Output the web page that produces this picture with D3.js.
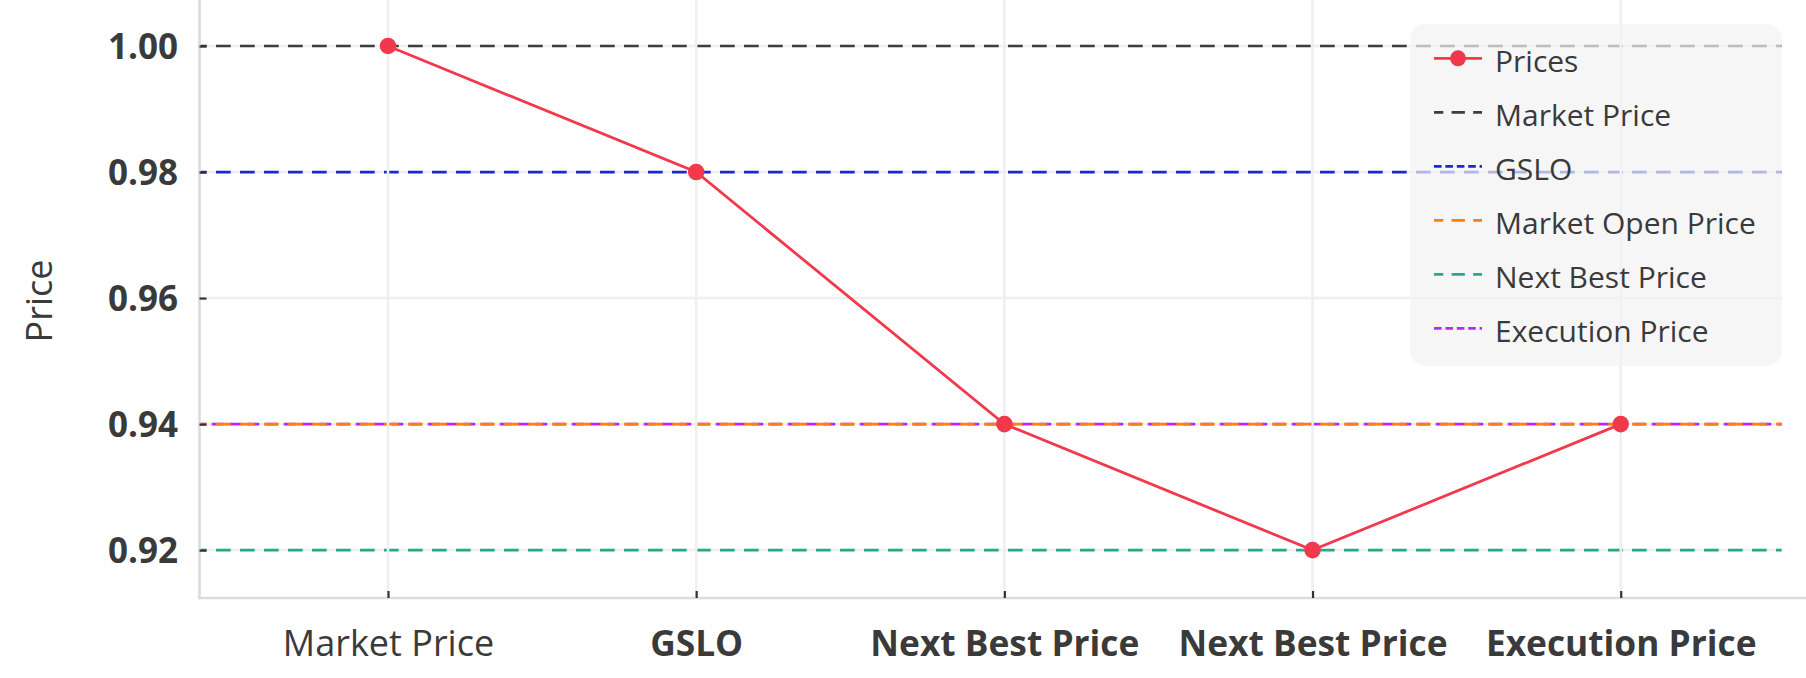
<!DOCTYPE html>
<html>
<head>
<meta charset="utf-8">
<script src="https://cdn.jsdelivr.net/npm/d3@7"></script>
<style>
  html, body { margin: 0; padding: 0; background: #ffffff; }
  svg { display: block; font-family: "Open Sans", "Noto Sans", sans-serif; }
</style>
</head>
<body>
<svg id="chart" width="1806" height="678"></svg>
<script>
// ---- data ----
const categories = ["Market Price", "GSLO", "Next Best Price", "Next Best Price", "Execution Price"];
const prices = [1.00, 0.98, 0.94, 0.92, 0.94];
const refNames = ["Market Price", "GSLO", "Market Open Price", "Next Best Price", "Execution Price"];
const refValues = [1.00, 0.98, 0.94, 0.92, 0.94];
const yTicks = [0.92, 0.94, 0.96, 0.98, 1.00];
const seriesName = "Prices";
const yLabel = "Price";

// ---- styles ----
const refColors = ["#3d3d3d", "#1c28d4", "#ff7f0e", "#26a98f", "#b22cff"];
const refDash = ["14.7,9.3", "14.7,9.3", "14.7,9.3", "14.7,9.3", "11.6,6.4"];
const refDashOffset = [7.5, 7.5, 7.5, 7.5, 5.8];
const legendDash = ["13.3,8.3", "7.6,3.8", "13.3,8.3", "13.3,8.3", "7.6,3.8"];
const legendDashOffset = [4, 0, 4, 4, 0];
const drawOrder = [4, 0, 1, 2, 3]; // purple below orange
const catWeights = [400, 700, 700, 700, 700];
const catSizes = [36, 35.3, 35.3, 35.3, 35.3];
const red = "#f2384b";
const textColor = "#3a3a3a";

const svg = d3.select("#chart");
const W = 1806, H = 678;
svg.append("rect").attr("width", W).attr("height", H).attr("fill", "#fff");

const pLeft = 199.5, pRight = 1781.7, pTop = 0, pBottom = 598;
const x = d3.scaleLinear().domain([-0.6116, 4.5223]).range([pLeft, pRight]);
const y = d3.scaleLinear().domain([0.9124, 1.0073]).range([pBottom, pTop]);
const idx = categories.map((d, i) => i);

// horizontal grid
svg.append("g").selectAll("line").data(yTicks).join("line")
  .attr("x1", pLeft).attr("x2", pRight)
  .attr("y1", d => y(d)).attr("y2", d => y(d))
  .attr("stroke", "#efefef").attr("stroke-width", 2.5);

// reference lines
svg.append("g").selectAll("line").data(drawOrder).join("line")
  .attr("x1", x.range()[0]).attr("x2", x.range()[1])
  .attr("y1", i => y(refValues[i])).attr("y2", i => y(refValues[i]))
  .attr("stroke", i => refColors[i])
  .attr("stroke-width", 2.7)
  .attr("stroke-dasharray", i => refDash[i])
  .attr("stroke-dashoffset", i => refDashOffset[i]);

// vertical grid
svg.append("g").selectAll("line").data(idx).join("line")
  .attr("x1", d => x(d)).attr("x2", d => x(d))
  .attr("y1", pTop).attr("y2", pBottom)
  .attr("stroke", "#efefef").attr("stroke-width", 2.5);

// spines
svg.append("line").attr("x1", pLeft).attr("x2", pLeft).attr("y1", 0).attr("y2", pBottom + 1.3)
  .attr("stroke", "#dcdcdc").attr("stroke-width", 2.7);
svg.append("line").attr("x1", pLeft - 1.3).attr("x2", W).attr("y1", pBottom).attr("y2", pBottom)
  .attr("stroke", "#dcdcdc").attr("stroke-width", 2.7);

// axes
const yAxis = d3.axisLeft(y).tickValues(yTicks).tickFormat(d3.format(".2f"))
  .tickSizeInner(-7).tickSizeOuter(0).tickPadding(21.5);
const gy = svg.append("g").attr("transform", `translate(${pLeft},0)`).call(yAxis);
gy.select(".domain").remove();
gy.selectAll(".tick line").attr("stroke", "#333").attr("stroke-width", 2.2);
gy.selectAll(".tick text").attr("fill", textColor).attr("font-size", 35)
  .attr("font-weight", 700).attr("font-family", "Open Sans").attr("dy", "0.36em");

const xAxis = d3.axisBottom(x).tickValues(idx).tickFormat(i => categories[i])
  .tickSizeInner(-7).tickSizeOuter(0).tickPadding(45);
const gx = svg.append("g").attr("transform", `translate(0,${pBottom})`).call(xAxis);
gx.select(".domain").remove();
gx.selectAll(".tick line").attr("stroke", "#333").attr("stroke-width", 2.2);
gx.selectAll(".tick text").attr("fill", textColor)
  .attr("font-size", (d, i) => catSizes[i])
  .attr("font-family", "Open Sans")
  .attr("font-weight", (d, i) => catWeights[i])
  .attr("dy", null).attr("y", 58);

// y label
svg.append("text").attr("transform", "translate(52,301) rotate(-90)")
  .attr("text-anchor", "middle").attr("fill", textColor)
  .attr("font-size", 36).attr("font-family", "Open Sans").text(yLabel);

// prices line
const line = d3.line().x((d, i) => x(i)).y(d => y(d));
svg.append("path").datum(prices).attr("d", line)
  .attr("fill", "none").attr("stroke", red).attr("stroke-width", 2.8);
svg.append("g").selectAll("circle").data(prices).join("circle")
  .attr("cx", (d, i) => x(i)).attr("cy", d => y(d)).attr("r", 8.3).attr("fill", red);

// legend
const lg = svg.append("g");
lg.append("rect").attr("x", 1410).attr("y", 24).attr("width", 371.7).attr("height", 341.7)
  .attr("rx", 15).attr("fill", "rgb(242,242,242)").attr("fill-opacity", 0.7);
const legendItems = [{name: seriesName, type: "series"}]
  .concat(refNames.map((n, i) => ({name: n, type: "ref", i})));
const rows = lg.selectAll("g.row").data(legendItems).join("g").attr("class", "row")
  .attr("transform", (d, k) => `translate(0,${72.3 + 54 * k})`);
rows.append("line").attr("x1", 1434).attr("x2", 1482).attr("y1", -14).attr("y2", -14)
  .attr("stroke", d => d.type === "series" ? red : refColors[d.i])
  .attr("stroke-width", 2.7)
  .attr("stroke-dasharray", d => d.type === "series" ? null : legendDash[d.i])
  .attr("stroke-dashoffset", d => d.type === "series" ? 0 : legendDashOffset[d.i]);
rows.filter(d => d.type === "series").append("circle")
  .attr("cx", 1458).attr("cy", -14).attr("r", 8).attr("fill", red);
rows.append("text").attr("x", 1495).attr("y", 0).attr("fill", textColor)
  .attr("font-size", 30).attr("font-family", "Open Sans").text(d => d.name);
</script>
</body>
</html>
